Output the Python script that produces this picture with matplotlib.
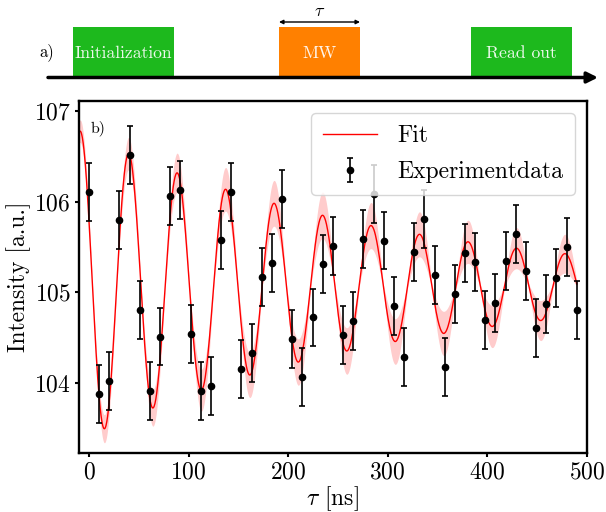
import numpy as np
import matplotlib.pyplot as plt
from matplotlib.patches import Rectangle

plt.rcParams['font.family'] = 'cmr10'
plt.rcParams['mathtext.fontset'] = 'cm'
plt.rcParams['axes.formatter.use_mathtext'] = True

# measured Rabi data
tau = np.linspace(0, 490, 49)  # ns
intensity = [106.11, 103.88, 104.02, 105.80, 106.51, 104.80, 103.91, 104.51, 106.06, 106.13,
             104.54, 103.91, 103.96, 105.58, 106.11, 104.15, 104.33, 105.17, 105.32, 106.03,
             104.48, 104.06, 104.72, 105.31, 105.51, 104.53, 104.68, 105.59, 106.08, 105.57,
             104.85, 104.28, 105.44, 105.81, 105.19, 104.17, 104.98, 105.43, 105.33, 104.69,
             104.88, 105.34, 105.64, 105.23, 104.60, 104.87, 105.16, 105.50, 104.80]
intensity_err = [0.32] * len(intensity)

# damped cosine fit parameters
fit_offset = 105.07
fit_amp = 1.66
fit_decay = 310.0   # ns
fit_period = 48.7   # ns
fit_peak = 40.0     # ns, position of first maximum
band_rel0 = 0.07
band_rel1 = 0.001

# pulse sequence sketch (schematic units)
pulse_labels = ['Initialization', 'MW', 'Read out']
pulse_start = [73, 279, 471]
pulse_length = [101, 81, 101]
pulse_colors = ['#1db91d', '#ff8000', '#1db91d']

fig = plt.figure(figsize=(6.06, 5.12), dpi=100)

# a) pulse sequence
ax0 = fig.add_axes([0, 1 - 100 / 512, 1, 100 / 512])
ax0.set_xlim(0, 606)
ax0.set_ylim(100, 0)
ax0.axis('off')
for lab, s, w, c in zip(pulse_labels, pulse_start, pulse_length, pulse_colors):
    ax0.add_patch(Rectangle((s, 27), w, 50, facecolor=c, lw=0))
    ax0.text(s + w / 2, 53, lab, color='white', alpha=0.92, ha='center', va='center', fontsize=12.7)
ax0.annotate('', xy=(598, 77.5), xytext=(48, 77.5),
             arrowprops=dict(arrowstyle='-|>', color='black', lw=2.5, mutation_scale=16, shrinkA=0, shrinkB=0))
mw_s, mw_w = pulse_start[1], pulse_length[1]
ax0.annotate('', xy=(mw_s + mw_w, 22), xytext=(mw_s, 22),
             arrowprops=dict(arrowstyle='<|-|>', color='black', lw=1, mutation_scale=6, shrinkA=0, shrinkB=0))
ax0.text(mw_s + mw_w / 2, 11, r'$\tau$', ha='center', va='center', fontsize=13)
ax0.text(47, 52, 'a)', ha='center', va='center', fontsize=12)

# b) Rabi oscillation
ax = fig.add_axes([0.1304, 0.1146, 0.8378, 0.688])
t_fit = np.linspace(-10, 490, 1200)
env = fit_amp * np.exp(-t_fit / fit_decay)
osc = np.cos(2 * np.pi * (t_fit - fit_peak) / fit_period)
fit = fit_offset + env * osc
half = env * np.abs(osc) * (band_rel0 + band_rel1 * t_fit) + 0.02

ax.fill_between(t_fit, fit - half, fit + half, color='red', alpha=0.2, lw=0)
ax.plot(t_fit, fit, color='red', lw=1, label='Fit')
ax.errorbar(tau, intensity, yerr=intensity_err, fmt='o', color='black', ms=4.5,
            capsize=2.5, elinewidth=1.2, capthick=1.2, label='Experimentdata')

ax.set_xlim(-10, 500)
ax.set_ylim(103.22, 107.11)
ax.set_xticks([0, 100, 200, 300, 400, 500])
ax.set_yticks([104, 105, 106, 107])
ax.tick_params(labelsize=17, width=1.5, length=3, pad=3)
for sp in ax.spines.values():
    sp.set_linewidth(1.7)
ax.set_xlabel(r'$\tau$ [ns]', fontsize=17, labelpad=0.5)
ax.set_ylabel('Intensity [a.u.]', fontsize=17, labelpad=2)
ax.text(0.022, 0.923, 'b)', transform=ax.transAxes, fontsize=11.5, va='center')
ax.legend(loc='upper right', fontsize=17, handlelength=2.3, handletextpad=0.85,
          labelspacing=0.6, borderpad=0.5)

fig.patch.set_facecolor('white')
plt.savefig('out.png', dpi=100)
